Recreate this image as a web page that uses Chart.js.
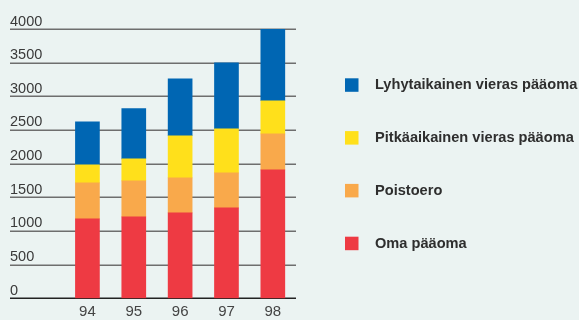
<!DOCTYPE html>
<html>
<head>
<meta charset="utf-8">
<script src="https://cdn.jsdelivr.net/npm/chart.js@4"></script>
<style>
	html, body { margin: 0; padding: 0; background: #ebf3f2; }
	#wrap { width: 579px; height: 320px; }
</style>
</head>
<body>
<div id="wrap"><canvas id="chart" width="579" height="320"></canvas></div>
<script>
const years = ["94", "95", "96", "97", "98"];
const omaPaaoma = [1180, 1210, 1268, 1342, 1908];
const poistoero = [535, 535, 521, 521, 535];
const pitkaaikainen = [267, 327, 625, 655, 491];
const lyhytaikainen = [640, 745, 847, 981, 1066];
const yStep = 500;
const yMax = 4000;

const ctx = document.getElementById("chart").getContext("2d");

// Horizontal rules: run under the y labels from the left edge, zero line darker
const longGrid = {
	id: "longGrid",
	beforeDatasetsDraw(chart) {
		const c = chart.ctx;
		const y = chart.scales.y;
		const right = chart.chartArea.right;
		c.save();
		y.ticks.forEach((t) => {
			const py = Math.round(y.getPixelForValue(t.value)) + 0.25;
			c.beginPath();
			c.lineWidth = 1.5;
			c.strokeStyle = t.value === 0 ? "#222" : "#6e6e6e";
			c.moveTo(10, py);
			c.lineTo(right, py);
			c.stroke();
		});
		c.restore();
	},
};

// Legend drawn by hand on the right, top item = top of the stack
const sideLegend = {
	id: "sideLegend",
	afterDraw(chart) {
		const c = chart.ctx;
		const sets = chart.data.datasets.slice().reverse();
		c.save();
		c.font = "bold 14.6px 'Liberation Sans', Arial, sans-serif";
		c.textBaseline = "middle";
		c.textAlign = "left";
		sets.forEach((ds, i) => {
			const top = 78.3 + i * 52.8;
			c.fillStyle = ds.backgroundColor;
			c.fillRect(345, top, 13.5, 13.5);
			c.fillStyle = "#2e2e2e";
			c.fillText(ds.label, 375, top + 7);
		});
		c.restore();
	},
};

const data = {
	labels: years,
	datasets: [
		{ label: "Oma pääoma", data: omaPaaoma, backgroundColor: "#ee3a43" },
		{ label: "Poistoero", data: poistoero, backgroundColor: "#f9a94b" },
		{ label: "Pitkäaikainen vieras pääoma", data: pitkaaikainen, backgroundColor: "#ffe01b" },
		{ label: "Lyhytaikainen vieras pääoma", data: lyhytaikainen, backgroundColor: "#0066b3" },
	],
};

const config = {
	type: "bar",
	data: data,
	options: {
		responsive: false,
		animation: false,
		layout: { padding: { left: 10, right: 283, top: 29, bottom: -5.7 } },
		datasets: { bar: { barThickness: 24, borderWidth: 0 } },
		scales: {
			x: {
				stacked: true,
				grid: { display: false, drawTicks: false },
				border: { display: false },
				ticks: {
					color: "#444",
					padding: 4.7,
					font: { family: "'Liberation Sans', Arial, sans-serif", size: 15 },
				},
			},
			y: {
				stacked: true,
				min: 0,
				max: yMax,
				border: { display: false },
				// grid hidden, but the tick length still reserves the label column
				grid: { display: false, drawTicks: true, tickLength: 54 },
				ticks: {
					stepSize: yStep,
					crossAlign: "far",
					labelOffset: -7.5,
					padding: -16,
					color: "#3a3a3a",
					font: { family: "'Liberation Sans', Arial, sans-serif", size: 14.5 },
					callback: (v) => String(v),
				},
			},
		},
		plugins: { legend: { display: false }, tooltip: { enabled: false } },
	},
	plugins: [longGrid, sideLegend],
};

const myChart = new Chart(ctx, config);
</script>
</body>
</html>
